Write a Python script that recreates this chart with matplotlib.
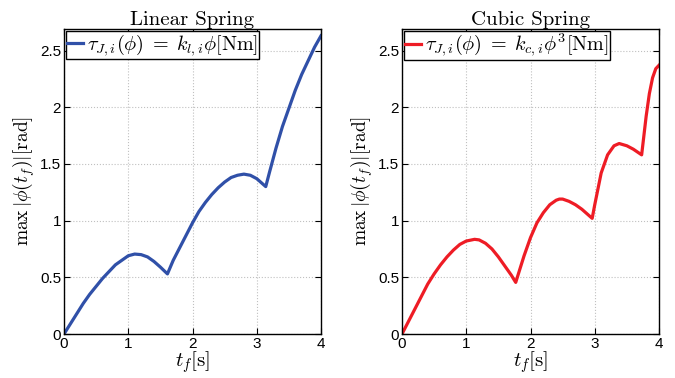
import matplotlib
matplotlib.use("Agg")
import matplotlib.pyplot as plt

plt.rcParams['mathtext.fontset'] = 'cm'
plt.rcParams['font.family'] = ['Liberation Sans', 'DejaVu Sans']

# Linear spring data
t_lin = [0.0, 0.1, 0.2, 0.3, 0.4, 0.5, 0.6, 0.7, 0.8, 0.9, 1.0, 1.1, 1.2, 1.3, 1.4, 1.5, 1.61,
         1.7, 1.8, 1.9, 2.0, 2.1, 2.2, 2.3, 2.4, 2.5, 2.6, 2.7, 2.8, 2.9, 3.0, 3.14,
         3.2, 3.3, 3.4, 3.5, 3.6, 3.7, 3.8, 3.9, 4.0]
y_lin = [0.00, 0.09, 0.18, 0.27, 0.35, 0.42, 0.49, 0.55, 0.61, 0.65, 0.69, 0.705, 0.70, 0.68, 0.64, 0.59, 0.53,
         0.65, 0.76, 0.87, 0.98, 1.08, 1.16, 1.23, 1.29, 1.34, 1.38, 1.40, 1.41, 1.40, 1.37, 1.30,
         1.43, 1.64, 1.83, 1.99, 2.15, 2.29, 2.41, 2.53, 2.63]

# Cubic spring data
t_cub = [0.0, 0.1, 0.2, 0.3, 0.4, 0.5, 0.6, 0.7, 0.8, 0.9, 1.0, 1.13, 1.2, 1.3, 1.4, 1.5, 1.6, 1.7, 1.77,
         1.85, 1.9, 2.0, 2.1, 2.2, 2.3, 2.4, 2.45, 2.5, 2.6, 2.7, 2.8, 2.9, 2.96,
         3.0, 3.1, 3.2, 3.3, 3.38, 3.5, 3.6, 3.73, 3.8, 3.85, 3.9, 3.95, 4.0]
y_cub = [0.00, 0.11, 0.22, 0.33, 0.44, 0.53, 0.61, 0.68, 0.74, 0.79, 0.82, 0.835, 0.83, 0.80, 0.75, 0.68, 0.60, 0.52, 0.455,
         0.60, 0.69, 0.85, 0.98, 1.07, 1.14, 1.18, 1.19, 1.19, 1.17, 1.14, 1.10, 1.05, 1.02,
         1.14, 1.42, 1.58, 1.66, 1.68, 1.66, 1.63, 1.58, 1.92, 2.12, 2.26, 2.34, 2.37]

xticks = [0, 1, 2, 3, 4]
yticks = [0, 0.5, 1, 1.5, 2, 2.5]
ytick_labels = ['0', '0.5', '1', '1.5', '2', '2.5']

titles = ['Linear Spring', 'Cubic Spring']
legends = [r'$\tau_{J,i}(\phi)\;=\;k_{l,i}\phi[\mathrm{Nm}]$',
           r'$\tau_{J,i}(\phi)\;=\;k_{c,i}\phi^3[\mathrm{Nm}]$']
colors = ['#3050a8', '#ee1c25']

fig = plt.figure(figsize=(6.75, 3.78), dpi=100)
W, H = 675, 378
axes = [fig.add_axes([64 / W, (H - 334) / H, 257 / W, 305 / H]),
        fig.add_axes([402 / W, (H - 334) / H, 257 / W, 305 / H])]

for ax, t, y, title, leg, col in zip(axes, [t_lin, t_cub], [y_lin, y_cub], titles, legends, colors):
    ax.plot(t, y, color=col, lw=2.3, label=leg, solid_joinstyle='round')
    ax.set_xlim(0, 4)
    ax.set_ylim(0, 2.69)
    ax.set_xticks(xticks)
    ax.set_yticks(yticks)
    ax.set_yticklabels(ytick_labels)
    ax.tick_params(direction='in', top=True, right=True, labelsize=11, length=4, width=0.8, pad=2)
    ax.grid(True, linestyle=':', color='#c0c0c0', lw=0.8)
    for s in ax.spines.values():
        s.set_linewidth(1.0)
        s.set_color('black')
    ax.set_title(title, fontfamily='cmr10', fontsize=15, pad=3)
    ax.set_xlabel(r'$t_f[\mathrm{s}]$', fontsize=15, labelpad=-1)
    ax.set_ylabel(r'$\max\,|\phi(t_f)|[\mathrm{rad}]$', fontsize=14, labelpad=2)
    lg = ax.legend(loc='upper left', fontsize=14.5, handlelength=0.8, handletextpad=0.2,
                   borderpad=0.05, borderaxespad=0.1, frameon=True, fancybox=False)
    lg.get_frame().set_edgecolor('black')
    lg.get_frame().set_linewidth(1.0)
    lg.get_frame().set_alpha(1)

fig.savefig('out.png', dpi=100)
